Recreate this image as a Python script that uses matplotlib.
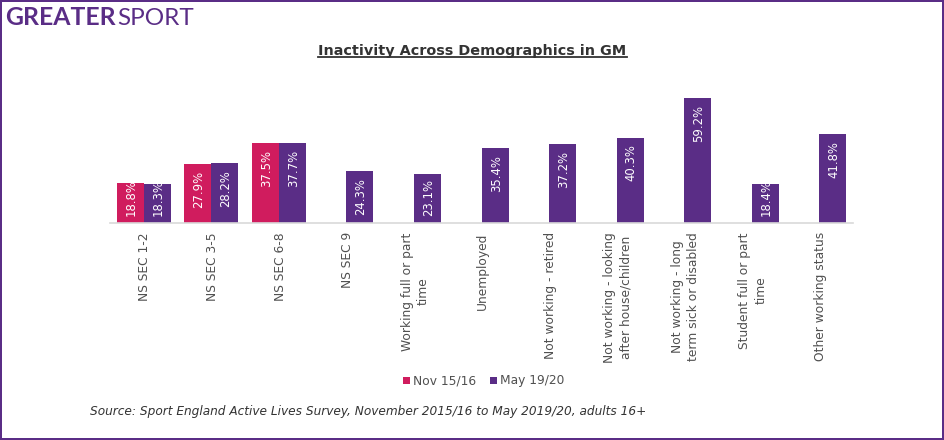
import matplotlib
matplotlib.use("Agg")
import matplotlib.pyplot as plt
from matplotlib.lines import Line2D
from matplotlib.patches import Rectangle
from matplotlib.transforms import ScaledTranslation
import numpy as np

categories = ["NS SEC 1-2", "NS SEC 3-5", "NS SEC 6-8", "NS SEC 9",
              "Working full or part\ntime", "Unemployed", "Not working - retired",
              "Not working - looking\nafter house/children",
              "Not working - long\nterm sick or disabled",
              "Student full or part\ntime", "Other working status"]
nov_1516 = [18.8, 27.9, 37.5]
may_1920 = [18.3, 28.2, 37.7, 24.3, 23.1, 35.4, 37.2, 40.3, 59.2, 18.4, 41.8]

RED = "#d01c5e"
PURPLE = "#5a2d86"
TEXT = "#505050"
W, H = 944, 440
FS = 8.8

plt.rcParams["font.family"] = ["DejaVu Sans"]
fig = plt.figure(figsize=(W / 100, H / 100), dpi=100)

# axes placed in pixels: x 110-853, baseline at y=222.5
ax = fig.add_axes([110 / W, 1 - 222.5 / H, 743 / W, 137 / H])
x = np.arange(len(categories))
bar_w = 27 / 67.5
px = 65 / 137  # data units per pixel
nudge = ScaledTranslation(1.2 / 100, 0, fig.dpi_scale_trans)  # texts sit about 1px right

red_bars = ax.bar(x[:3] - bar_w / 2, nov_1516, bar_w, color=RED, label="Nov 15/16")
pur_bars = ax.bar(x + bar_w / 2, may_1920, bar_w, color=PURPLE, label="May 19/20")

# labels sit near the bar top, short bars keep them low and clip the overflow
for bars, vals in ((red_bars, nov_1516), (pur_bars, may_1920)):
    for b, v in zip(bars, vals):
        xc = b.get_x() + b.get_width() / 2
        if v - (7 + 37) * px < 7 * px:
            t = ax.text(xc, 6.5 * px, f"{v:.1f}%", rotation=90, ha="center", va="bottom",
                        color="white", fontsize=8.4)
        else:
            t = ax.text(xc, v - 7 * px, f"{v:.1f}%", rotation=90, ha="center", va="top",
                        color="white", fontsize=8.4)
        t.set_transform(t.get_transform() + nudge)
        t.set_clip_path(b)
        t.set_clip_on(True)

ax.set_xlim(-0.5, len(categories) - 0.5)
ax.set_ylim(0, 65)
ax.set_yticks([])
ax.set_xticks(x)
ax.set_xticklabels(categories, rotation=90, ha="center", va="top", fontsize=FS,
                   color=TEXT, linespacing=1.3)
ax.tick_params(axis="x", length=0, pad=7)
for lab in ax.get_xticklabels():
    lab.set_transform(lab.get_transform() + nudge)
for s in ("top", "left", "right"):
    ax.spines[s].set_visible(False)
ax.spines["bottom"].set_color("#d9d9d9")
ax.spines["bottom"].set_linewidth(1.2)

# title with underline
fig.text(472.5 / W, 1 - 54.5 / H, "Inactivity Across Demographics in GM", ha="center", va="baseline",
         fontsize=10.4, fontweight="bold", color="#333333")
fig.add_artist(Line2D([318 / W, 627 / W], [1 - 56.8 / H] * 2, color="#333333", lw=1.3))

# legend
fig.add_artist(Rectangle((403 / W, 1 - 384 / H), 7 / W, 7 / H, color=RED, lw=0, transform=fig.transFigure))
fig.text(413 / W, 1 - 380.5 / H, "Nov 15/16", va="center", fontsize=FS, color=TEXT)
fig.add_artist(Rectangle((490 / W, 1 - 384 / H), 7 / W, 7 / H, color=PURPLE, lw=0, transform=fig.transFigure))
fig.text(500 / W, 1 - 380.5 / H, "May 19/20", va="center", fontsize=FS, color=TEXT)

# source note
fig.text(90 / W, 1 - 411.5 / H, "Source: Sport England Active Lives Survey, November 2015/16 to May 2019/20, adults 16+",
         va="center", fontsize=8.73, style="italic", color="#333333")

# logo as text
fig.text(5 / W, 1 - 25 / H, "GREATER", va="baseline", fontsize=17.8, fontweight="bold",
         color=PURPLE, family="Lato")
fig.text(117 / W, 1 - 25 / H, "SPORT", va="baseline", fontsize=17.5, fontweight="normal",
         color=PURPLE, family="Lato")

# frame around the chart
fig.add_artist(Rectangle((1 / W, 1 / H), (W - 2) / W, (H - 2) / H, fill=False, edgecolor=PURPLE,
                         lw=1.44, transform=fig.transFigure))

fig.savefig("out.png", dpi=100)
